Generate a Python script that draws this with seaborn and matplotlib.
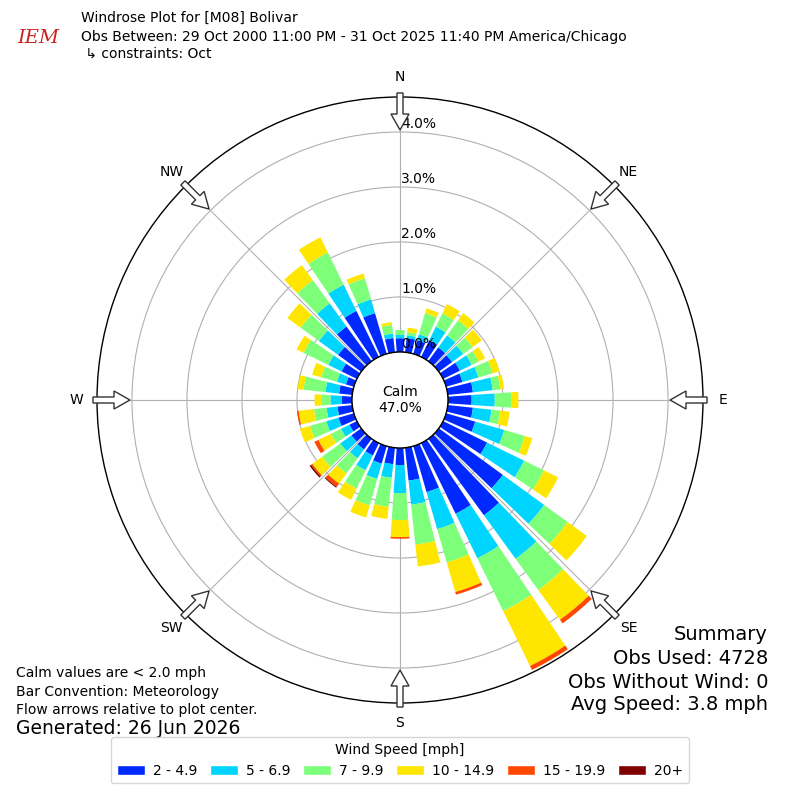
import numpy as np
import pandas as pd
import seaborn as sns
import matplotlib
matplotlib.use("Agg")
import matplotlib.pyplot as plt
from matplotlib.patches import FancyArrow, Circle, Patch

sns.set_style("white")
plt.rcParams['font.family'] = ['DejaVu Sans']
plt.rcParams['text.color'] = 'black'
plt.rcParams['xtick.color'] = 'black'
plt.rcParams['ytick.color'] = 'black'

# direction bins (degrees, meteorology convention)
directions = list(range(0, 360, 10))
speed_labels = ["2 - 4.9", "5 - 6.9", "7 - 9.9", "10 - 14.9", "15 - 19.9", "20+"]

# cumulative percent at the outer edge of each speed class
cum_2_5 = [0.25, 0.26, 0.26, 0.34, 0.31, 0.30, 0.34, 0.31, 0.46, 0.43,
           0.46, 0.55, 0.89, 1.44, 1.72, 1.43, 0.87, 0.60, 0.31, 0.30,
           0.33, 0.25, 0.24, 0.22, 0.15, 0.29, 0.27, 0.19, 0.24, 0.15,
           0.31, 0.52, 0.78, 0.93, 0.77, 0.26]
cum_5_7 = [0.31, 0.31, 0.37, 0.61, 0.58, 0.55, 0.58, 0.61, 0.82, 0.85,
           0.80, 1.10, 1.64, 2.37, 2.70, 2.33, 1.57, 1.04, 0.82, 0.55,
           0.62, 0.55, 0.44, 0.47, 0.32, 0.52, 0.47, 0.39, 0.49, 0.32,
           0.58, 0.95, 1.30, 1.46, 1.03, 0.34]
cum_7_10 = [0.40, 0.37, 0.77, 0.88, 0.92, 0.76, 0.72, 0.88, 0.96, 1.16,
            0.96, 1.49, 2.04, 2.90, 3.40, 3.40, 2.20, 1.77, 1.31, 1.08,
            1.12, 0.92, 0.78, 0.88, 0.53, 0.83, 0.70, 0.56, 0.89, 0.62,
            1.08, 1.36, 1.82, 2.11, 1.43, 0.50]
cum_10_15 = [0.40, 0.45, 0.86, 1.07, 1.08, 0.97, 0.85, 1.01, 1.03, 1.28,
             1.13, 1.63, 2.33, 3.33, 4.07, 4.51, 2.76, 2.17, 1.62, 1.30,
             1.35, 1.15, 1.01, 1.10, 0.78, 1.02, 0.98, 0.68, 1.00, 0.79,
             1.22, 1.66, 2.16, 2.42, 1.52, 0.55]
cum_15_20 = [0.40, 0.45, 0.86, 1.07, 1.08, 0.97, 0.85, 1.01, 1.03, 1.28,
             1.13, 1.63, 2.33, 3.33, 4.15, 4.59, 2.81, 2.17, 1.65, 1.30,
             1.35, 1.15, 1.08, 1.13, 0.86, 1.02, 1.01, 0.68, 1.00, 0.79,
             1.22, 1.66, 2.16, 2.42, 1.52, 0.55]
cum_20p = [0.40, 0.45, 0.86, 1.07, 1.08, 0.97, 0.85, 1.01, 1.03, 1.28,
           1.13, 1.63, 2.33, 3.33, 4.15, 4.59, 2.81, 2.17, 1.65, 1.30,
           1.35, 1.15, 1.10, 1.16, 0.86, 1.02, 1.01, 0.68, 1.00, 0.79,
           1.22, 1.66, 2.16, 2.42, 1.52, 0.55]

calm_pct = 47.0
ring_ticks = [0, 1, 2, 3, 4]
compass = ["N", "NE", "E", "SE", "S", "SW", "W", "NW"]

df = pd.DataFrame({"dir": directions, "c1": cum_2_5, "c2": cum_5_7, "c3": cum_7_10,
                   "c4": cum_10_15, "c5": cum_15_20, "c6": cum_20p})
cum_cols = ["c1", "c2", "c3", "c4", "c5", "c6"]
colors = plt.cm.jet(np.arange(1, 7) / 6.0)

fig = plt.figure(figsize=(8, 8), dpi=100)
ax = fig.add_axes([0.12125, 0.12125, 0.7575, 0.7575], projection="polar")
ax.set_theta_zero_location("N")
ax.set_theta_direction(-1)

theta = np.deg2rad(df["dir"].values)
bottom = np.zeros(len(df))
for col, color in zip(cum_cols, colors):
    top = df[col].values
    ax.bar(theta, top - bottom, width=np.deg2rad(7.9), bottom=bottom,
           color=color, linewidth=0, zorder=1)
    bottom = top

ax.set_rorigin(-48 / 55)
ax.set_ylim(0, 255 / 55)
ax.set_yticks(ring_ticks)
ax.set_yticklabels([])
ax.set_xticks(np.deg2rad(np.arange(0, 360, 45)))
ax.set_xticklabels(compass, fontsize=10)
ax.tick_params(axis="x", pad=4)
ax.grid(True, color="#b0b0b0", lw=0.8)
ax.spines["polar"].set_color("black")
ax.spines["polar"].set_linewidth(1.0)

for r in ring_ticks:
    ax.annotate(f"{r:.1f}%", xy=(0, r), xytext=(1, 1), textcoords="offset points",
                ha="left", va="bottom", fontsize=10, zorder=7)

# calm circle
ax.add_patch(Circle((0.5, 0.5), 48 / 606, transform=ax.transAxes, facecolor="white",
                    edgecolor="black", lw=1.0, zorder=5, clip_on=False))
ax.text(0.5, 0.5, f"Calm\n{calm_pct:.1f}%", transform=ax.transAxes, ha="center",
        va="center", fontsize=10, zorder=6)

# flow arrows
for ang in range(0, 360, 45):
    a = np.deg2rad(ang)
    r0, length = 307 / 606, 37 / 606
    ax.add_patch(FancyArrow(0.5 + r0 * np.sin(a), 0.5 + r0 * np.cos(a),
                            -length * np.sin(a), -length * np.cos(a),
                            width=6 / 606, head_width=18 / 606, head_length=16 / 606,
                            length_includes_head=True, facecolor="white",
                            edgecolor="#333333", lw=1.0, transform=ax.transAxes,
                            clip_on=False, zorder=8))

# header
fig.text(17 / 800, 1 - 38 / 800, "IEM", color="#cc2222", fontsize=14, style="italic",
         family="DejaVu Serif", va="center")
fig.text(81 / 800, 1 - 18 / 800, "Windrose Plot for [M08] Bolivar", fontsize=10, va="center")
fig.text(81 / 800, 1 - 37 / 800,
         "Obs Between: 29 Oct 2000 11:00 PM - 31 Oct 2025 11:40 PM America/Chicago",
         fontsize=10, va="center")
fig.text(81 / 800, 1 - 54 / 800, " \u21b3 constraints: Oct", fontsize=10, va="center")

# summary
summary = ["Summary", "Obs Used: 4728", "Obs Without Wind: 0", "Avg Speed: 3.8 mph"]
for txt, y in zip(summary, [635, 659, 682, 705]):
    fig.text(768 / 800, 1 - y / 800, txt, fontsize=14, ha="right", va="center")

notes = ["Calm values are < 2.0 mph", "Bar Convention: Meteorology",
         "Flow arrows relative to plot center."]
for txt, y in zip(notes, [673, 692, 710]):
    fig.text(16 / 800, 1 - y / 800, txt, fontsize=10, va="center")
fig.text(16 / 800, 1 - 729 / 800, "Generated: 26 Jun 2026", fontsize=13.5, va="center")

handles = [Patch(facecolor=c, label=l) for c, l in zip(colors, speed_labels)]
fig.legend(handles=handles, loc="lower center", bbox_to_anchor=(0.5, 0.012), ncol=6,
           title="Wind Speed [mph]", fontsize=10, title_fontsize=10,
           columnspacing=0.9, handletextpad=0.6, borderpad=0.4)

fig.savefig("out.png", dpi=100)
